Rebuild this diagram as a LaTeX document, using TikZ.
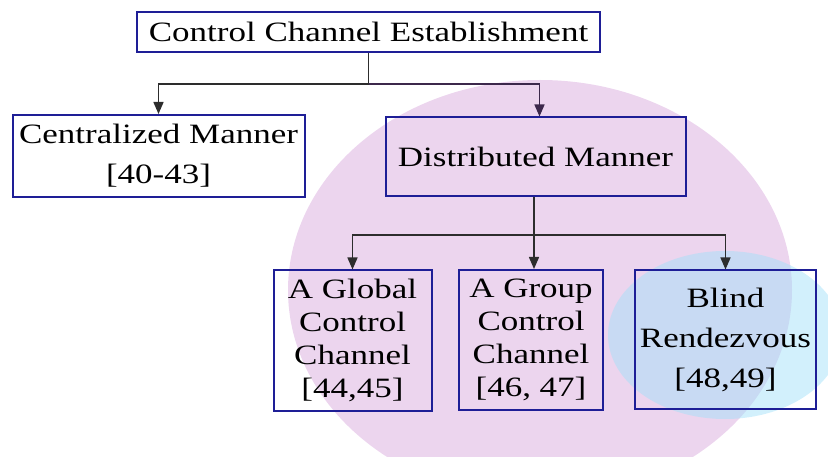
\documentclass[tikz,border=0pt]{standalone}
\usepackage{fontspec}
\setmainfont{Liberation Serif}[FakeStretch=1.25]
\usetikzlibrary{arrows.meta}
\definecolor{boxblue}{RGB}{30,30,150}
\definecolor{pinkfill}{RGB}{236,213,238}
\definecolor{bluefill}{RGB}{161,224,249}
\definecolor{linegray}{RGB}{45,45,45}
\definecolor{darkplum}{RGB}{60,40,75}
\begin{document}
\begin{tikzpicture}[x=1pt,y=-1pt,
        box/.style={draw=boxblue,line width=2pt,inner sep=0pt,align=center,
                    font=\fontsize{28}{33}\selectfont},
        widebox/.style={box,font=\fontsize{28}{40}\selectfont},
        link/.style={draw=linegray,line width=1.5pt},
        arr/.style={link,-{Triangle[length=12pt,width=10pt]}}]
        \useasboundingbox (0,0) rectangle (828,457);
        \clip (0,0) rectangle (828,457);

        % Ellipsen
        \fill[pinkfill] (540,290) ellipse [x radius=252pt, y radius=210pt];
        \fill[bluefill,opacity=0.48] (725,335) ellipse [x radius=117pt, y radius=84pt];

        % Kaesten
        \node[box,minimum width=463pt,minimum height=40pt] (root) at (368.5,32) {Control Channel Establishment};
        \node[widebox,minimum width=292pt,minimum height=82pt] (central) at (158.5,156) {Centralized Manner\\{[40-43]}};
        \node[box,minimum width=300pt,minimum height=79pt] (distrib) at (535.5,157) {Distributed Manner};
        \node[box,minimum width=158pt,minimum height=140pt] (global) at (352.5,340.5) {A Global\\Control\\Channel\\{[44,45]}};
        \node[box,minimum width=144pt,minimum height=140pt] (group) at (531,340) {A Group\\Control\\Channel\\{[46, 47]}};
        \node[widebox,minimum width=181pt,minimum height=138pt] (blind) at (725.5,339.5) {Blind\\Rendezvous\\{[48,49]}};

        % Verbindungen
        \coordinate (fork1) at (368.5,84);
        \coordinate (fork2) at (534,235);
        \draw[link] (root.south) -- (fork1);
        \draw[arr] (fork1) -| (central.north);
        \draw[arr,draw=darkplum] (fork1) -| ([xshift=4pt]distrib.north);
        \draw[link] (distrib.south -| fork2) -- (fork2);
        \draw[arr] (fork2) -| (global.north);
        \draw[arr] (fork2) -- (fork2 |- group.north);
        \draw[arr] (fork2) -| (blind.north);
\end{tikzpicture}
\end{document}
